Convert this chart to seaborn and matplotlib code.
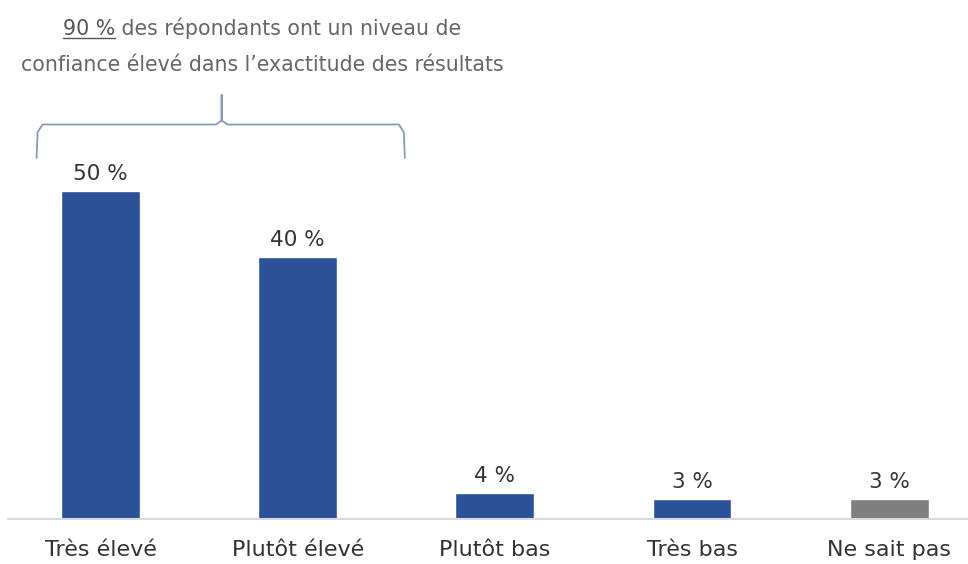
import numpy as np
import pandas as pd
import matplotlib
matplotlib.use("Agg")
import matplotlib.pyplot as plt
import seaborn as sns

# data
categories = ["Très élevé", "Plutôt élevé", "Plutôt bas", "Très bas", "Ne sait pas"]
values = [50, 40, 4, 3, 3]
bar_colors = ["#2C5198", "#2C5198", "#2C5198", "#2C5198", "#7F7F7F"]
note_share = "90 %"
note_line1 = " des répondants ont un niveau de"
note_line2 = "confiance élevé dans l\u2019exactitude des résultats"

df = pd.DataFrame({"cat": categories, "val": values})

sns.set_style("white")
plt.rcParams["font.family"] = ["DejaVu Sans"]

fig = plt.figure(figsize=(9.68, 5.64), dpi=100)
ax = fig.add_axes([8 / 968, 45 / 564, 960 / 968, 519 / 564])

sns.barplot(data=df, x="cat", y="val", hue="cat", palette=bar_colors,
            width=0.4, legend=False, ax=ax, saturation=1)

ax.set_xlim(-0.47, 4.4)
ax.set_ylim(0, 79.2)

for c in ax.containers:
    ax.bar_label(c, labels=[f"{v:g} %" for v in c.datavalues],
                 padding=5, fontsize=15.5, color="#333333")

ax.set_xlabel("")
ax.set_ylabel("")
ax.set_yticks([])
ax.tick_params(axis="x", length=0, pad=15, labelsize=16, labelcolor="#333333")
for s in ["top", "left", "right"]:
    ax.spines[s].set_visible(False)
ax.spines["bottom"].set_color("#D9D9D9")
ax.spines["bottom"].set_linewidth(1.5)

# brace over the first two bars
bl, br = 0 - 0.325, 1 + 0.543
tip = 0.614
y_end, y_mid, y_tip = 55.1, 60.2, 64.7
bx = [bl, bl + 0.005, bl + 0.03, tip - 0.03, tip, tip, tip, tip + 0.03, br - 0.03, br - 0.005, br]
by = [y_end, y_mid - 1.2, y_mid, y_mid, y_mid + 0.6, y_tip, y_mid + 0.6, y_mid, y_mid, y_mid - 1.2, y_end]
ax.plot(bx, by, color="#8C97B8", lw=1.3, clip_on=False, solid_joinstyle="round")

# note text above brace
xc = 0.82
fs = 14.8
y1, y2 = 73.8, 68.4
t1 = ax.text(xc, y1, note_share + note_line1, ha="center", va="baseline",
             fontsize=fs, color="#666666")
ax.text(xc, y2, note_line2, ha="center", va="baseline",
        fontsize=fs, color="#666666")

# underline the share
fig.canvas.draw()
r = fig.canvas.get_renderer()
full = t1.get_window_extent(r)
tmp = ax.text(0, 0, note_share, fontsize=fs)
w = tmp.get_window_extent(r).width
tmp.remove()
inv = ax.transData.inverted()
x0 = inv.transform((full.x0, 0))[0]
x1 = inv.transform((full.x0 + w, 0))[0]
t1.set_text("")
ax.text(x0, y1, note_share, ha="left", va="baseline", fontsize=fs, color="#555555")
ax.text(x1, y1, note_line1, ha="left", va="baseline", fontsize=fs, color="#666666")
yl = inv.transform((0, ax.transData.transform((0, y1))[1] - 3))[1]
ax.plot([x0, x1], [yl, yl], color="#555555", lw=1.0, clip_on=False)

fig.savefig("out.png", dpi=100)
